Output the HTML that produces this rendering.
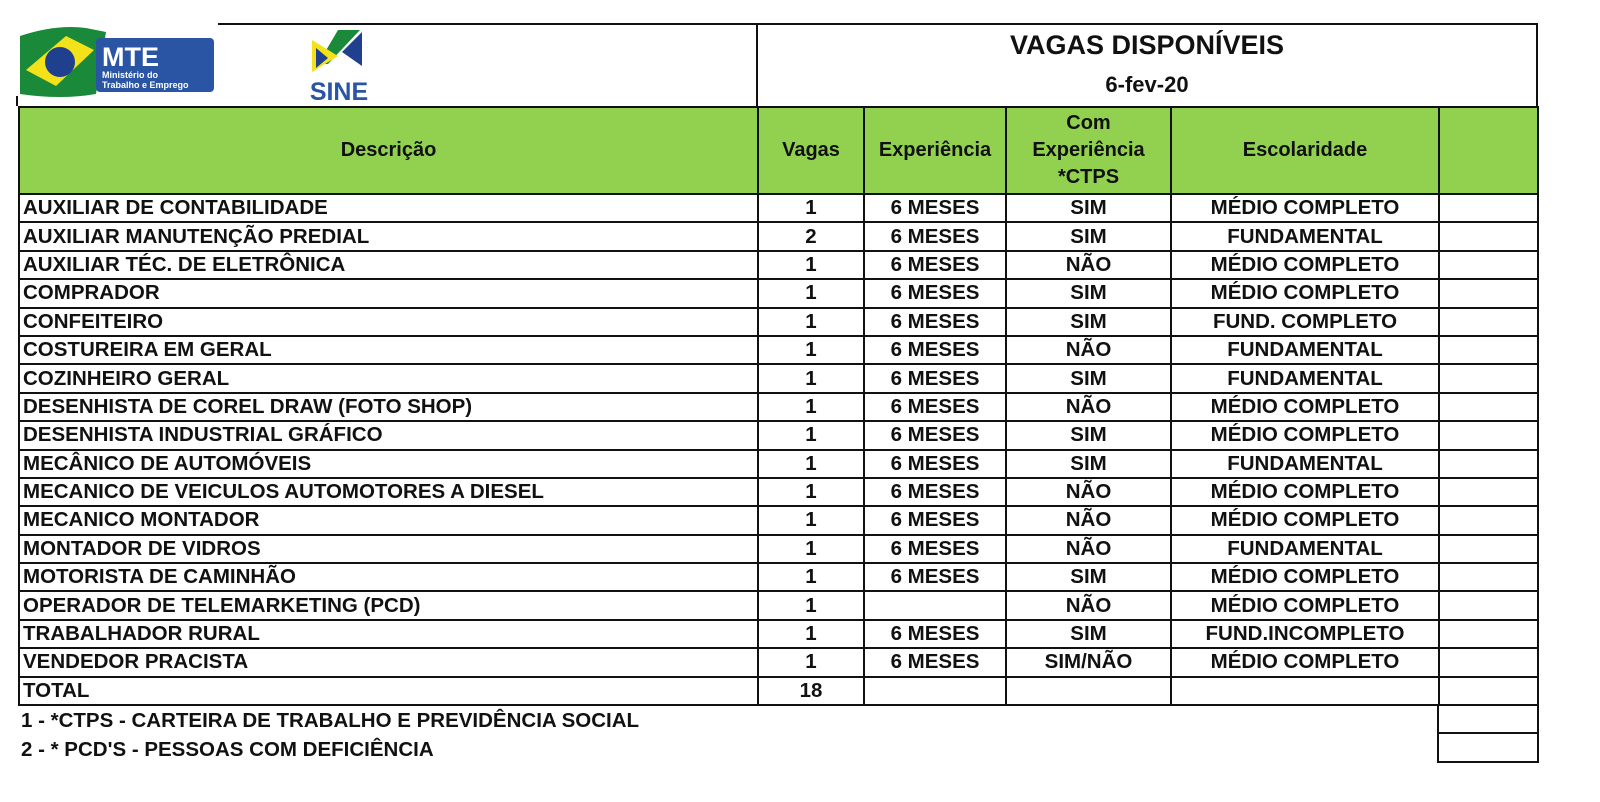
<!DOCTYPE html>
<html><head><meta charset="utf-8"><style>
body{margin:0;width:1600px;height:802px;background:#fff;position:relative;overflow:hidden;font-family:"Liberation Sans",Arial,sans-serif;font-weight:bold;color:#111}
.abs{position:absolute}
table{position:absolute;left:18px;top:106px;border-collapse:collapse;table-layout:fixed;width:1519px}
td{border:2px solid #111;padding:0;height:26.4px;font-size:20.5px;line-height:20px;white-space:nowrap;overflow:hidden;text-align:center}
td.l{text-align:left;padding-left:3px}
tr.h td{background:#92d050;height:85px;font-size:20px;line-height:27px}
</style></head><body>
<div class="abs" style="left:218px;top:23px;width:1320px;height:2px;background:#111"></div>
<div class="abs" style="left:756px;top:23px;width:2px;height:84px;background:#111"></div>
<div class="abs" style="left:1536px;top:23px;width:2px;height:84px;background:#111"></div>
<div class="abs" style="left:16px;top:96px;width:2px;height:10px;background:#111"></div>
<svg class="abs" style="left:16px;top:26px" width="200" height="74">
<path d="M4,10 Q40,-2 70,2 L90,6 L80,68 Q45,74 4,68 Z" fill="#1a8a3a"/>
<path d="M10,44 L50,10 L78,24 L40,60 Z" fill="#f3e21a"/>
<circle cx="44" cy="36" r="15" fill="#1f3f8f"/>
<rect x="80" y="12" width="118" height="54" rx="4" fill="#2a55a4"/>
<text x="86" y="40" font-size="27" font-weight="bold" fill="#fff" font-family="Liberation Sans">MTE</text>
<text x="86" y="52" font-size="9" font-weight="bold" fill="#fff" font-family="Liberation Sans">Ministério do</text>
<text x="86" y="62" font-size="9" font-weight="bold" fill="#fff" font-family="Liberation Sans">Trabalho e Emprego</text>
</svg>
<svg class="abs" style="left:298px;top:28px" width="82" height="78">
<path d="M40,2 L62,2 L30,36 L20,36 Z" fill="#1a8a3a"/>
<path d="M14,12 L40,28 L14,44 Z" fill="#f3e21a"/>
<path d="M64,4 L64,38 L44,24 Z" fill="#1f3f8f"/>
<path d="M18,20 L18,40 L30,30 Z" fill="#1f3f8f"/>
<text x="41" y="72" text-anchor="middle" font-size="25" font-weight="bold" fill="#2a55a4" font-family="Liberation Sans">SINE</text>
</svg>
<div class="abs" style="left:758px;top:30px;width:778px;text-align:center;font-size:27px">VAGAS DISPONÍVEIS</div>
<div class="abs" style="left:758px;top:72px;width:778px;text-align:center;font-size:22px">6-fev-20</div>
<table>
<colgroup><col style="width:739px"><col style="width:106px"><col style="width:142px"><col style="width:165px"><col style="width:268px"><col style="width:99px"></colgroup>
<tr class="h"><td>Descrição</td><td>Vagas</td><td>Experiência</td><td>Com<br>Experiência<br>*CTPS</td><td>Escolaridade</td><td></td></tr>
<tr><td class="l">AUXILIAR DE CONTABILIDADE</td><td>1</td><td>6 MESES</td><td>SIM</td><td>MÉDIO COMPLETO</td><td></td></tr>
<tr><td class="l">AUXILIAR MANUTENÇÃO PREDIAL</td><td>2</td><td>6 MESES</td><td>SIM</td><td>FUNDAMENTAL</td><td></td></tr>
<tr><td class="l">AUXILIAR TÉC. DE ELETRÔNICA</td><td>1</td><td>6 MESES</td><td>NÃO</td><td>MÉDIO COMPLETO</td><td></td></tr>
<tr><td class="l">COMPRADOR</td><td>1</td><td>6 MESES</td><td>SIM</td><td>MÉDIO COMPLETO</td><td></td></tr>
<tr><td class="l">CONFEITEIRO</td><td>1</td><td>6 MESES</td><td>SIM</td><td>FUND. COMPLETO</td><td></td></tr>
<tr><td class="l">COSTUREIRA EM GERAL</td><td>1</td><td>6 MESES</td><td>NÃO</td><td>FUNDAMENTAL</td><td></td></tr>
<tr><td class="l">COZINHEIRO GERAL</td><td>1</td><td>6 MESES</td><td>SIM</td><td>FUNDAMENTAL</td><td></td></tr>
<tr><td class="l">DESENHISTA DE COREL DRAW (FOTO SHOP)</td><td>1</td><td>6 MESES</td><td>NÃO</td><td>MÉDIO COMPLETO</td><td></td></tr>
<tr><td class="l">DESENHISTA INDUSTRIAL GRÁFICO</td><td>1</td><td>6 MESES</td><td>SIM</td><td>MÉDIO COMPLETO</td><td></td></tr>
<tr><td class="l">MECÂNICO DE AUTOMÓVEIS</td><td>1</td><td>6 MESES</td><td>SIM</td><td>FUNDAMENTAL</td><td></td></tr>
<tr><td class="l">MECANICO DE VEICULOS AUTOMOTORES A DIESEL</td><td>1</td><td>6 MESES</td><td>NÃO</td><td>MÉDIO COMPLETO</td><td></td></tr>
<tr><td class="l">MECANICO MONTADOR</td><td>1</td><td>6 MESES</td><td>NÃO</td><td>MÉDIO COMPLETO</td><td></td></tr>
<tr><td class="l">MONTADOR DE VIDROS</td><td>1</td><td>6 MESES</td><td>NÃO</td><td>FUNDAMENTAL</td><td></td></tr>
<tr><td class="l">MOTORISTA DE CAMINHÃO</td><td>1</td><td>6 MESES</td><td>SIM</td><td>MÉDIO COMPLETO</td><td></td></tr>
<tr><td class="l">OPERADOR DE TELEMARKETING (PCD)</td><td>1</td><td></td><td>NÃO</td><td>MÉDIO COMPLETO</td><td></td></tr>
<tr><td class="l">TRABALHADOR RURAL</td><td>1</td><td>6 MESES</td><td>SIM</td><td>FUND.INCOMPLETO</td><td></td></tr>
<tr><td class="l">VENDEDOR PRACISTA</td><td>1</td><td>6 MESES</td><td>SIM/NÃO</td><td>MÉDIO COMPLETO</td><td></td></tr>
<tr><td class="l">TOTAL</td><td>18</td><td></td><td></td><td></td><td></td></tr>
</table>
<div class="abs" style="left:1437px;top:705px;width:98px;height:56px;border:2px solid #111;border-top:none"></div>
<div class="abs" style="left:1437px;top:732px;width:100px;height:2px;background:#111"></div>
<div class="abs" style="left:21px;top:709px;font-size:20.5px">1 - *CTPS - CARTEIRA DE TRABALHO E PREVIDÊNCIA SOCIAL</div>
<div class="abs" style="left:21px;top:738px;font-size:20.5px">2 - * PCD'S - PESSOAS COM DEFICIÊNCIA</div>
</body></html>
